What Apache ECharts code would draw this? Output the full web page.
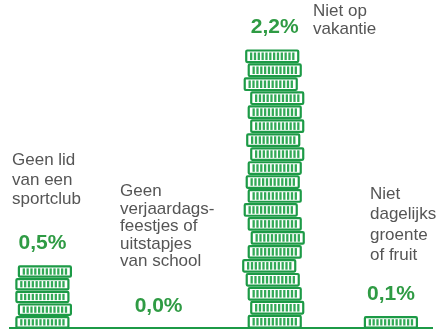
<!DOCTYPE html>
<html>
<head>
<meta charset="utf-8">
<script src="https://cdn.jsdelivr.net/npm/echarts@6/dist/echarts.min.js"></script>
<style>
  html, body { margin: 0; padding: 0; background: #ffffff; }
  #chart { width: 437px; height: 331px; }
</style>
</head>
<body>
<div id="chart"></div>
<script>
// Percentages per group, drawn as stacks of coins
const categories = ['Geen lid van een sportclub', 'Geen verjaardagsfeestjes of uitstapjes van school', 'Niet op vakantie', 'Niet dagelijks groente of fruit'];
const labelLines = [
  ['Geen lid', 'van een', 'sportclub'],
  ['Geen', 'verjaardags-', 'feestjes of', 'uitstapjes', 'van school'],
  ['Niet op', 'vakantie'],
  ['Niet', 'dagelijks', 'groente', 'of fruit']
];
const values = [0.5, 0.0, 2.2, 0.1];

// Styling
const GREEN = '#1c9a46';
const STRIPE = '#32a957';
const LABEL_GREEN = '#2f9b44';
const TEXT_GRAY = '#555555';
const FONT = '"Liberation Sans", Arial, Helvetica, sans-serif';
const COIN_W = 52;
const COIN_PITCH = 14;     // approx. spacing of coins in a stack
const COIN_GAP = 2.4;
// slight horizontal wobble of each coin, bottom to top
const coinWobble = [
  [0, 2.5, 0, 0, 2.5],
  [0],
  [0, 2.5, 0, -2, -5.5, 0, 3, 0, -4, 0, -2, 0, 2.5, -1.5, 2.5, 0, 2.5, -4, 0, -2.5],
  [0]
];
// placement of the descriptive text blocks
const textBlocks = [
  { left: 12, top: 151, lineHeight: 19.5 },
  { left: 120, top: 183, lineHeight: 17.5 },
  { left: 313, top: 3, lineHeight: 17.5 },
  { left: 370, top: 184, lineHeight: 20.5 }
];

function coin(x, y, w, h) {
  const children = [{
    type: 'rect',
    shape: { x: x, y: y, width: w, height: h, r: 1 },
    style: { fill: '#ffffff', stroke: GREEN, lineWidth: 2.2 }
  }];
  const inset = 3;
  const n = 12;
  const step = (w - 2 * inset) / n;
  for (let k = 0; k < n; k++) {
    children.push({
      type: 'rect',
      shape: { x: x + inset + k * step + step * 0.2, y: y + 2, width: step * 0.6, height: Math.max(0, h - 4) },
      style: { fill: STRIPE }
    });
  }
  return children;
}

function renderItem(params, api) {
  const idx = api.value(0);
  const val = api.value(1);
  const base = api.coord([idx, 0]);
  const top = api.coord([idx, val]);
  const cx = base[0];
  const h = base[1] - top[1];
  const n = val > 0 ? Math.max(1, Math.round(h / COIN_PITCH)) : 0;
  const pitch = n ? h / n : 0;
  const ch = pitch - COIN_GAP;
  const wob = coinWobble[idx] || [0];
  let children = [];
  for (let i = 0; i < n; i++) {
    const yb = base[1] - i * pitch - 0.5;
    const dx = wob[i % wob.length];
    children = children.concat(coin(cx - COIN_W / 2 + dx, yb - ch, COIN_W, ch));
  }
  children.push({
    type: 'text',
    style: {
      x: cx, y: top[1] - 11,
      text: val.toFixed(1).replace('.', ',') + '%',
      fill: LABEL_GREEN,
      font: 'bold 21px ' + FONT,
      textAlign: 'center',
      textVerticalAlign: 'bottom'
    }
  });
  return { type: 'group', children: children };
}

const chart = echarts.init(document.getElementById('chart'), null, { renderer: 'canvas' });

const graphics = [{
  type: 'line',
  shape: { x1: 9, y1: 328, x2: 433, y2: 328 },
  style: { stroke: GREEN, lineWidth: 2 },
  z: 1
}];
labelLines.forEach(function (lines, i) {
  const b = textBlocks[i];
  graphics.push({
    type: 'text',
    left: b.left,
    top: b.top,
    style: {
      text: lines.join('\n'),
      fill: TEXT_GRAY,
      font: '17px ' + FONT,
      lineHeight: b.lineHeight
    }
  });
});

chart.setOption({
  animation: false,
  grid: { left: 42.4, right: 46.1, top: 10.5, bottom: 3 },
  xAxis: {
    type: 'category',
    data: categories,
    boundaryGap: false,
    show: false
  },
  yAxis: {
    type: 'value',
    min: 0,
    max: 2.5,
    show: false
  },
  series: [{
    type: 'custom',
    renderItem: renderItem,
    encode: { x: 0, y: 1 },
    data: values.map(function (v, i) { return [i, v]; }),
    clip: false,
    z: 2
  }],
  graphic: graphics
});
</script>
</body>
</html>
